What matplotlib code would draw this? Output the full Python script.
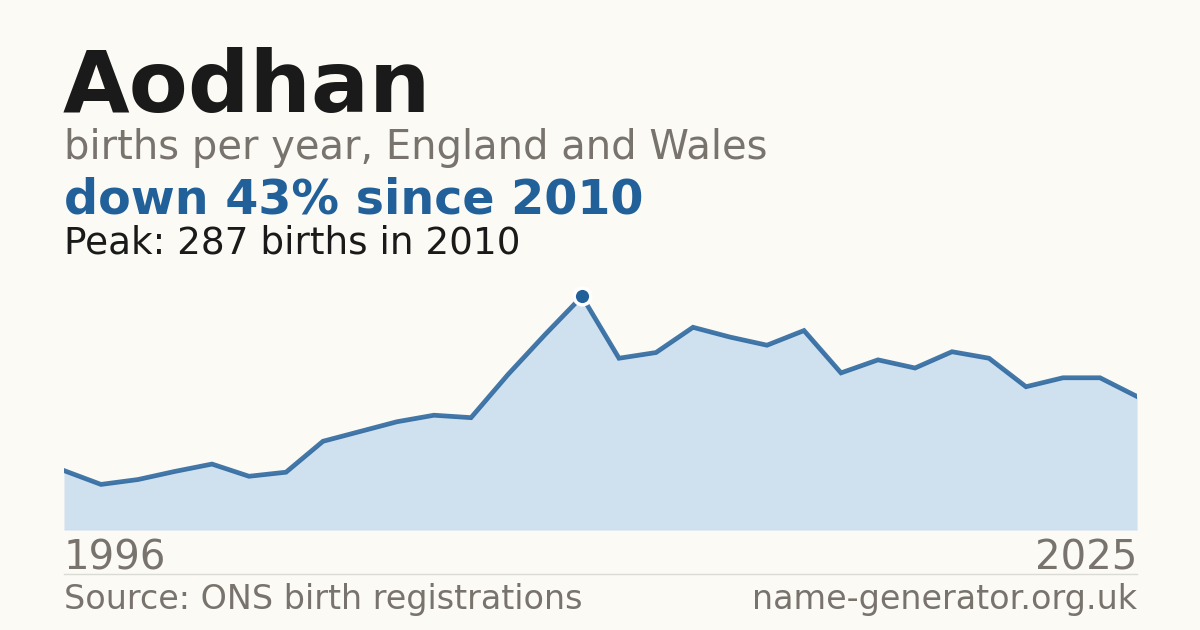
import matplotlib
matplotlib.use('Agg')
import matplotlib.pyplot as plt

plt.rcParams['font.family'] = ['DejaVu Sans']

# births per year
years = list(range(1996, 2026))
births = [73, 56, 62, 72, 81, 66, 71, 109, 121, 133, 141, 138, 191, 240, 287,
          211, 218, 249, 237, 227, 245, 193, 209, 199, 219, 211, 176, 187, 187, 164]

name = 'Aodhan'
subtitle = 'births per year, England and Wales'
headline = 'down 43% since 2010'
peak_note = 'Peak: 287 births in 2010'
source = 'Source: ONS birth registrations'
site = 'name-generator.org.uk'

bg = '#fbfaf5'
blue = '#22609a'
fill = '#cfe0ef'
grey = '#78736c'
dark = '#1a1a1a'

W, H = 1200, 630
fig = plt.figure(figsize=(12, 6.3), dpi=100, facecolor=bg)

def px(x, y):
    return x / W, 1 - y / H

# chart area
ax = fig.add_axes([64 / W, 1 - 530 / H, (1137 - 64) / W, (530 - 273) / H])
ax.set_facecolor(bg)
peak = max(births)
peak_year = years[births.index(peak)]
ax.fill_between(years, births, 0, color=fill, lw=0)
ax.plot(years, births, color=blue, lw=3.4, alpha=0.85, solid_joinstyle='miter')
ax.plot([peak_year], [peak], 'o', ms=12, color=blue, mec='white', mew=2.5, zorder=5)
ax.axhline(0, color='#d8d8d4', lw=1)
ax.set_xlim(years[0], years[-1])
ax.set_ylim(0, peak * 1.1)
ax.axis('off')

# header
fig.text(*px(63, 112), name, fontsize=62, fontweight='bold', color=dark, va='baseline')
fig.text(*px(64, 159), subtitle, fontsize=28.8, color=grey, va='baseline')
fig.text(*px(64, 214), headline, fontsize=34.3, fontweight='bold', color=blue, va='baseline')
fig.text(*px(64, 254), peak_note, fontsize=26.9, color=dark, va='baseline')

# year ends
fig.text(*px(64, 570), str(years[0]), fontsize=29, color=grey, va='baseline')
fig.text(*px(1137, 570), str(years[-1]), fontsize=29, color=grey, va='baseline', ha='right')

# divider and footer
fig.add_artist(plt.Line2D([64 / W, 1137 / W], [1 - 574 / H] * 2, color='#dcdad4', lw=1))
fig.text(*px(64, 609), source, fontsize=24, color=grey, va='baseline')
fig.text(*px(1137, 609), site, fontsize=24, color=grey, va='baseline', ha='right')

fig.savefig('out.png', dpi=100, facecolor=bg)
